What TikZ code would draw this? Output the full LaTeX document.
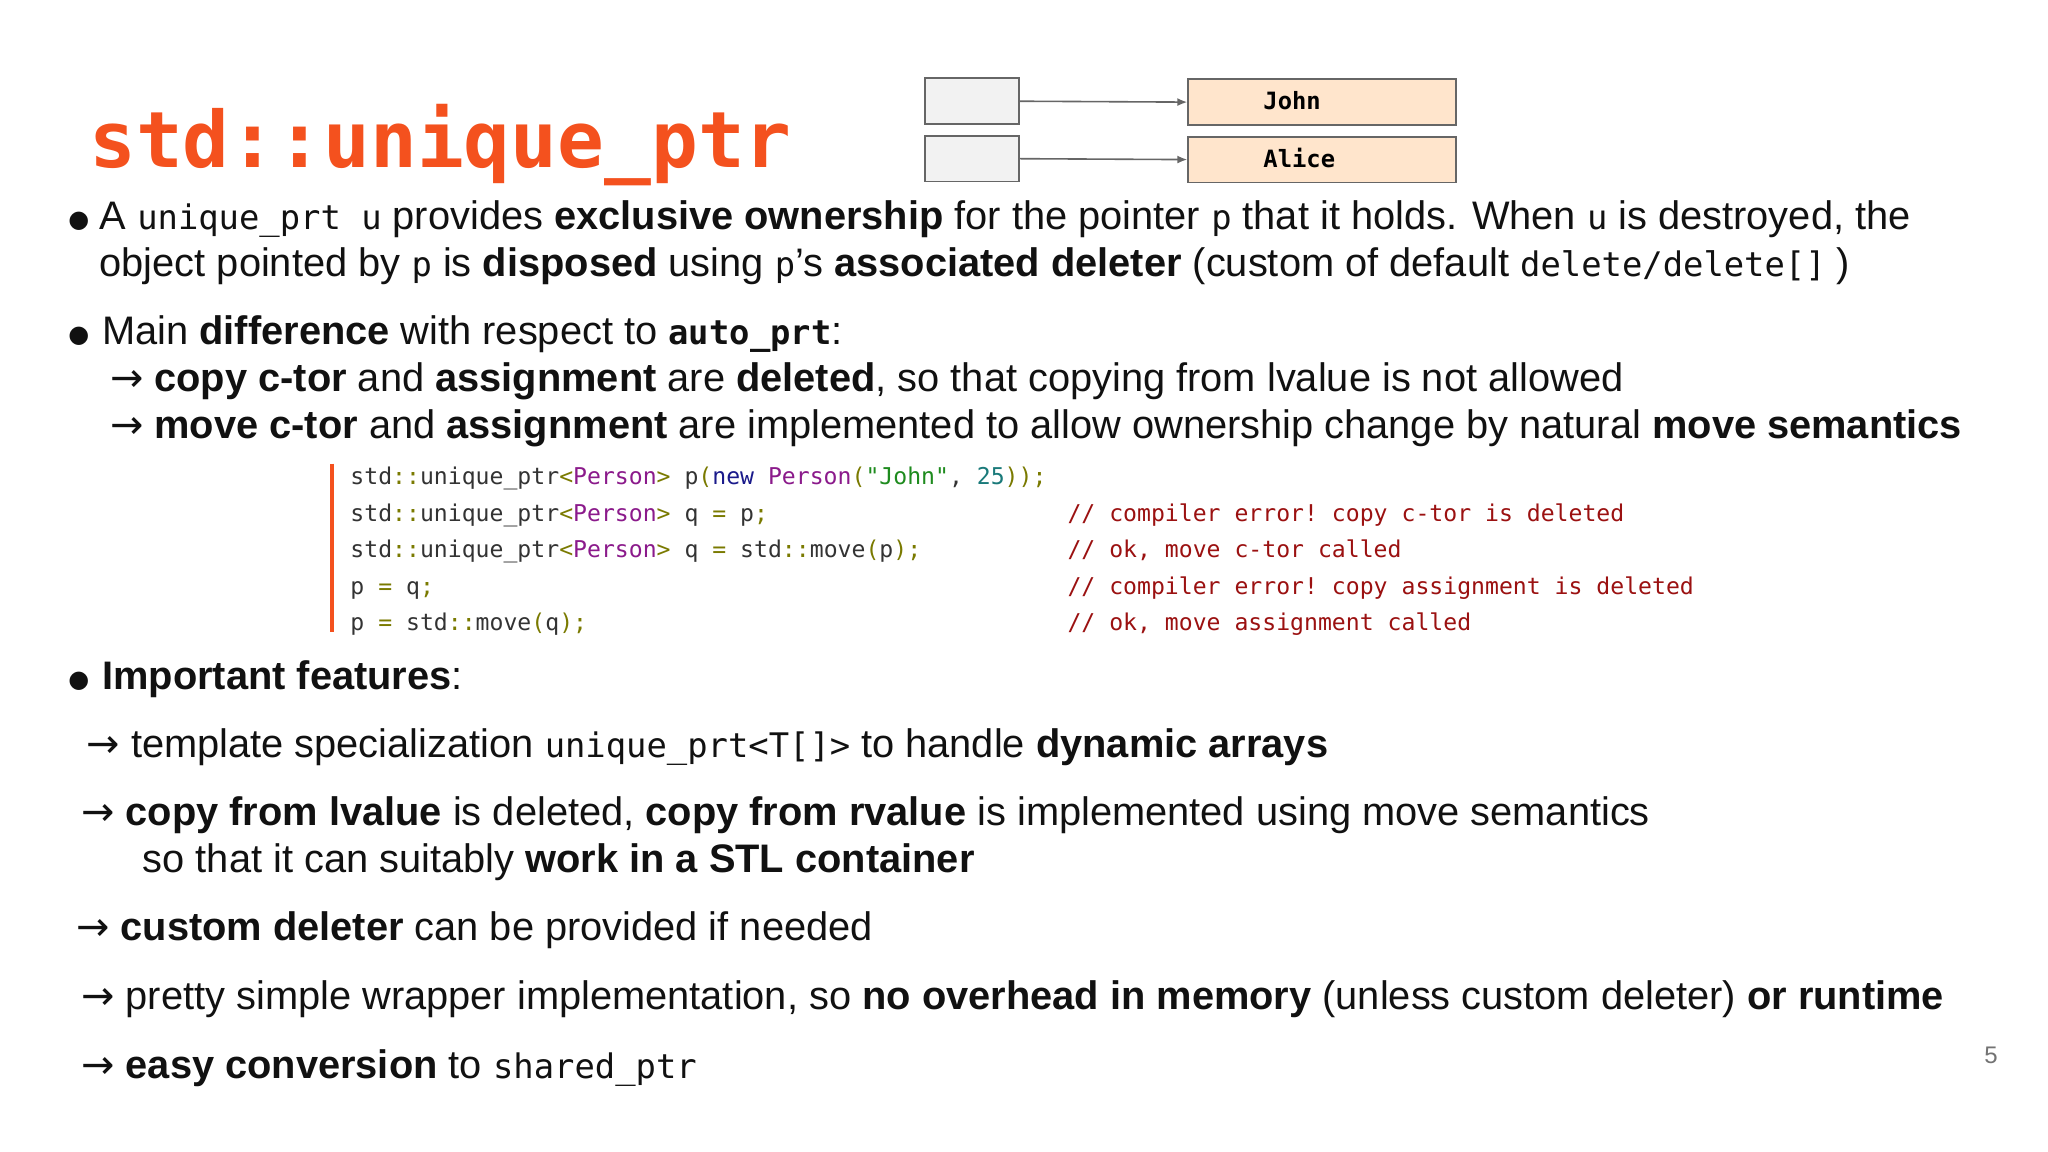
\documentclass[tikz,border=0pt]{standalone}
\usepackage{fontspec}
\setmainfont{Liberation Sans}
\setmonofont[Scale=0.85]{DejaVu Sans Mono}
\newfontfamily\titlefont{DejaVu Sans Mono}
\newfontfamily\symfont{DejaVu Sans}
\usetikzlibrary{arrows.meta}
\definecolor{ttl}{HTML}{F4511E}
\definecolor{cop}{HTML}{7A7A00}
\definecolor{cty}{HTML}{8B1A8B}
\definecolor{ckw}{HTML}{1A1A8B}
\definecolor{cstr}{HTML}{1E8B1E}
\definecolor{cnum}{HTML}{1A7A7A}
\definecolor{ccm}{HTML}{9B1111}
\definecolor{txt}{HTML}{111111}
\newcommand{\op}[1]{\textcolor{cop}{#1}}
\newcommand{\ty}[1]{\textcolor{cty}{#1}}
\newcommand{\arr}{{\symfont →}}
\newcommand{\bul}{{\symfont\fontsize{12}{14}\selectfont ●}}
\tikzset{
 body/.style={anchor=base west,inner sep=0pt,font=\fontsize{19.9}{24}\selectfont,text=txt},
 code/.style={anchor=base west,inner sep=0pt,font=\ttfamily\fontsize{13.6}{15}\selectfont,text=black!80},
 cmt/.style={code,text=ccm},
 ptrbox/.style={draw=black!60,line width=0.9pt,fill=black!5},
 objbox/.style={draw=black!60,line width=0.9pt,fill=orange!20!white},
 conn/.style={draw=black!60,line width=0.8pt,-{Latex[length=5pt,width=4pt]}},
 boxlbl/.style={anchor=base west,inner sep=0pt,font=\ttfamily\bfseries\fontsize{14}{16}\selectfont},
}
\begin{document}
\begin{tikzpicture}[x=0.653pt,y=-0.653pt]
\useasboundingbox[fill=white] (0,0) rectangle (1568,882);
\node[anchor=base west,inner sep=0pt,text=ttl,font=\titlefont\bfseries\fontsize{38.9}{44}\selectfont] (title) at (68,128) {std::unique\_ptr};
% diagram
\draw[ptrbox] (708,60) rectangle (780,95); \coordinate (p1) at (780,77.5);
\draw[ptrbox] (708,104) rectangle (780,139); \coordinate (p2) at (780,121.5);
\node[objbox,minimum width=205*0.653pt,minimum height=35*0.653pt,anchor=north west] (john) at (909,60) {};
\node[objbox,minimum width=205*0.653pt,minimum height=35*0.653pt,anchor=north west] (alice) at (909,104) {};
\node[boxlbl] (jt) at (967,84) {John};
\node[boxlbl] (at) at (967,128) {Alice};
\draw[conn] (p1) -- (john.west);
\draw[conn] (p2) -- (alice.west);
% bullet 1
\node[body] (b1) at (52,174) {\bul};
\node[body] (l1) at (76,176) {A \texttt{unique\_prt u} provides \textbf{exclusive ownership} for the pointer \texttt{p} that it holds. When \texttt{u} is destroyed, the};
\node[body] (l2) at (76,212) {object pointed by \texttt{p} is \textbf{disposed} using \texttt{p}’s \textbf{associated deleter} (custom of default \texttt{delete/delete[]} )};
% bullet 2
\node[body] (b2) at (52,262) {\bul};
\node[body] (l3) at (78,264) {Main \textbf{difference} with respect to \texttt{\bfseries auto\_prt}:};
\node[body] (l4) at (84,300) {\arr{} \textbf{copy c-tor} and \textbf{assignment} are \textbf{deleted}, so that copying from lvalue is not allowed};
\node[body] (l5) at (84,336) {\arr{} \textbf{move c-tor} and \textbf{assignment} are implemented to allow ownership change by natural \textbf{move semantics}};
% code
\draw[ttl,line width=2pt] (254,355) -- (254,484);
\node[code] (c1) at (268,371) {std\op{::}unique\_ptr\op{<}\ty{Person}\op{>} p\op{(}\textcolor{ckw}{new} \ty{Person}\op{(}\textcolor{cstr}{"John"}, \textcolor{cnum}{25}\op{));}};
\node[code] (c2) at (268,399) {std\op{::}unique\_ptr\op{<}\ty{Person}\op{>} q \op{=} p\op{;}};
\node[code] (c3) at (268,427) {std\op{::}unique\_ptr\op{<}\ty{Person}\op{>} q \op{=} std\op{::}move\op{(}p\op{);}};
\node[code] (c4) at (268,455) {p \op{=} q\op{;}};
\node[code] (c5) at (268,483) {p \op{=} std\op{::}move\op{(}q\op{);}};
\node[cmt] (m2) at (817,399) {// compiler error! copy c-tor is deleted};
\node[cmt] (m3) at (817,427) {// ok, move c-tor called};
\node[cmt] (m4) at (817,455) {// compiler error! copy assignment is deleted};
\node[cmt] (m5) at (817,483) {// ok, move assignment called};
% bullet 3
\node[body] (b3) at (52,526) {\bul};
\node[body] (l6) at (78,528) {\textbf{Important features}:};
\node[body] (l7) at (66,580) {\arr{} template specialization \texttt{unique\_prt<T[]>} to handle \textbf{dynamic arrays}};
\node[body] (l8) at (62,632) {\arr{} \textbf{copy from lvalue} is deleted, \textbf{copy from rvalue} is implemented using move semantics};
\node[body] (l9) at (109,668) {so that it can suitably \textbf{work in a STL container}};
\node[body] (l10) at (58,720) {\arr{} \textbf{custom deleter} can be provided if needed};
\node[body] (l11) at (62,773) {\arr{} pretty simple wrapper implementation, so \textbf{no overhead in memory} (unless custom deleter) \textbf{or runtime}};
\node[body] (l12) at (62,826) {\arr{} \textbf{easy conversion} to \texttt{shared\_ptr}};
\node[anchor=base west,inner sep=0pt,text=black!55,font=\fontsize{12}{14}\selectfont] (pg) at (1519,814) {5};
\end{tikzpicture}
\end{document}
